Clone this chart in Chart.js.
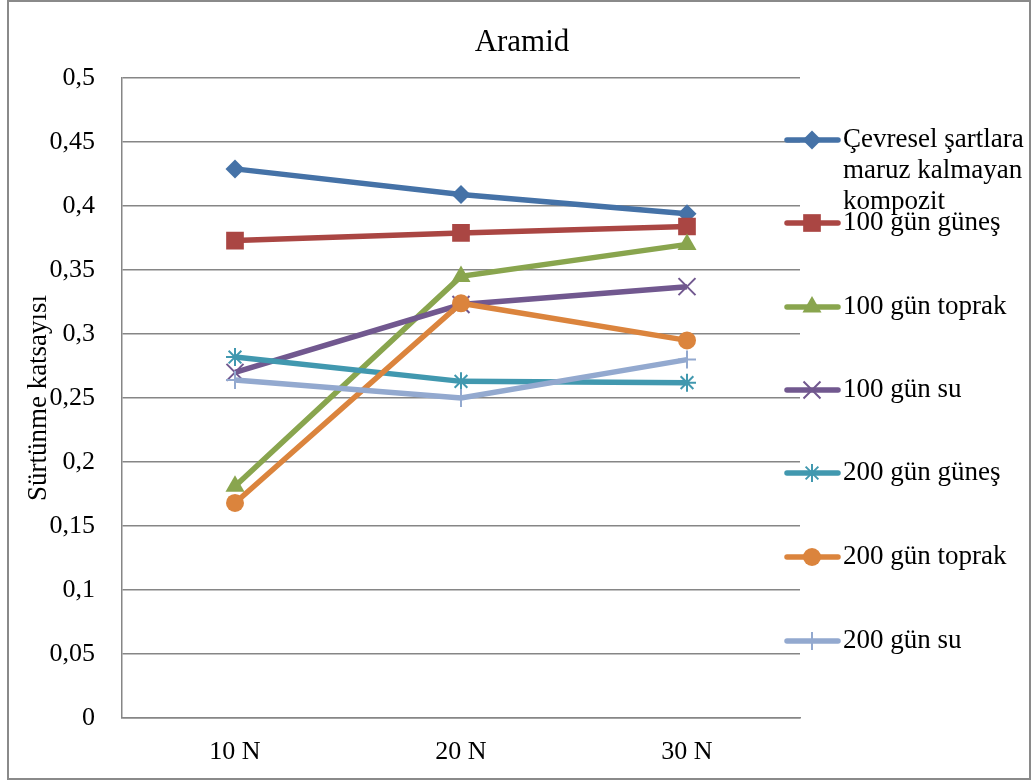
<!DOCTYPE html>
<html>
<head>
<meta charset="utf-8">
<title>Aramid</title>
<script src="https://cdn.jsdelivr.net/npm/chart.js@4/dist/chart.umd.min.js"></script>
<style>
  html, body { margin: 0; padding: 0; background: #fff; }
  #wrap { width: 1034px; height: 782px; position: relative; }
  canvas { display: block; }
</style>
</head>
<body>
<div id="wrap"><canvas id="chart" width="1034" height="782"></canvas></div>
<script>
// Load levels on the horizontal axis
const categories = ['10 N', '20 N', '30 N'];

// Friction coefficient for each exposure condition
const seriesNames = [
  'Çevresel şartlara maruz kalmayan kompozit',
  '100 gün güneş',
  '100 gün toprak',
  '100 gün su',
  '200 gün güneş',
  '200 gün toprak',
  '200 gün su'
];
const cevresel      = [0.429, 0.409, 0.394];
const gun100Gunes   = [0.373, 0.379, 0.384];
const gun100Toprak  = [0.181, 0.345, 0.370];
const gun100Su      = [0.270, 0.323, 0.337];
const gun200Gunes   = [0.282, 0.263, 0.262];
const gun200Toprak  = [0.168, 0.324, 0.295];
const gun200Su      = [0.264, 0.250, 0.280];

// Legend text lines for the first entry
const firstLegendLines = ['Çevresel şartlara', 'maruz kalmayan', 'kompozit'];

const yTickLabels = ['0', '0,05', '0,1', '0,15', '0,2', '0,25', '0,3', '0,35', '0,4', '0,45', '0,5'];

const seriesValues = [cevresel, gun100Gunes, gun100Toprak, gun100Su, gun200Gunes, gun200Toprak, gun200Su];
const colors = ['#4572A7', '#AA4643', '#89A54E', '#71588F', '#4198AF', '#DB843D', '#93A9CF'];
const styles = [
  { pointStyle: 'rectRot',  radius: 9.5,  bw: 0 },
  { pointStyle: 'rect',     radius: 12.5, bw: 0 },
  { pointStyle: 'triangle', radius: 11,   bw: 0 },
  { pointStyle: 'crossRot', radius: 12,   bw: 2 },
  { pointStyle: 'star',     radius: 9,    bw: 2 },
  { pointStyle: 'circle',   radius: 9,    bw: 0 },
  { pointStyle: 'cross',    radius: 9,    bw: 2 }
];

const SERIF = '"Liberation Serif", "Times New Roman", serif';

const datasets = seriesValues.map((vals, i) => ({
  label: seriesNames[i],
  data: vals,
  borderColor: colors[i],
  backgroundColor: colors[i],
  borderWidth: 5.5,
  pointStyle: styles[i].pointStyle,
  pointRadius: styles[i].radius,
  pointHoverRadius: styles[i].radius,
  pointBackgroundColor: colors[i],
  pointBorderColor: colors[i],
  pointBorderWidth: styles[i].bw,
  tension: 0,
  order: -i            // later series are drawn on top
}));

// Outer frame, chart title and the right-hand legend
const decorations = {
  id: 'decorations',
  afterDraw(chart) {
    const ctx = chart.ctx;
    ctx.save();

    // frame
    ctx.strokeStyle = '#8a8a8a';
    ctx.lineWidth = 2;
    ctx.strokeRect(8, 1, 1022, 778);

    // title
    ctx.fillStyle = '#000';
    ctx.font = '31px ' + SERIF;
    ctx.textAlign = 'center';
    ctx.textBaseline = 'alphabetic';
    ctx.fillText('Aramid', 522, 51);

    // legend
    const rowsY = [140, 223, 307, 390, 473, 557, 641];
    ctx.font = '27px ' + SERIF;
    ctx.textAlign = 'left';
    ctx.textBaseline = 'middle';
    chart.data.datasets.forEach((ds, i) => {
      const y = rowsY[i];
      ctx.strokeStyle = ds.borderColor;
      ctx.lineWidth = 5.5;
      ctx.lineCap = 'round';
      ctx.beginPath();
      ctx.moveTo(787, y);
      ctx.lineTo(838, y);
      ctx.stroke();
      ctx.lineCap = 'butt';

      ctx.save();
      ctx.fillStyle = ds.borderColor;
      ctx.strokeStyle = ds.borderColor;
      ctx.lineWidth = ds.pointBorderWidth || 1;
      Chart.helpers.drawPoint(ctx, {
        pointStyle: ds.pointStyle,
        radius: ds.pointRadius,
        borderWidth: ds.pointBorderWidth,
        rotation: 0
      }, 812, y);
      ctx.restore();

      ctx.fillStyle = '#000';
      const lines = i === 0 ? firstLegendLines : [ds.label];
      lines.forEach((t, k) => ctx.fillText(t, 843, y + k * 31));
    });
    ctx.restore();
  }
};

new Chart(document.getElementById('chart'), {
  type: 'line',
  data: { labels: categories, datasets },
  options: {
    responsive: false,
    animation: false,
    events: [],
    layout: { padding: { left: 0, top: 78, right: 234, bottom: 0 } },
    plugins: {
      legend: { display: false },
      title: { display: false },
      tooltip: { enabled: false }
    },
    scales: {
      x: {
        offset: true,
        grid: { display: false, drawTicks: false },
        border: { display: true, color: '#868686', width: 1.5 },
        ticks: {
          color: '#000',
          font: { family: SERIF, size: 26 },
          padding: 19,
          maxRotation: 0
        },
        afterFit(scale) { scale.height = 64; }
      },
      y: {
        min: 0,
        max: 0.5,
        grid: { color: '#868686', lineWidth: 1.5, drawTicks: false },
        border: { display: true, color: '#868686', width: 1.5 },
        ticks: {
          stepSize: 0.05,
          color: '#000',
          font: { family: SERIF, size: 26 },
          padding: 27,
          callback: (v, i) => yTickLabels[i]
        },
        title: {
          display: true,
          text: 'Sürtünme katsayısı',
          color: '#000',
          font: { family: SERIF, size: 27 },
          padding: { top: 23, bottom: 0 }
        },
        afterFit(scale) { scale.width = 122; }
      }
    }
  },
  plugins: [decorations]
});
</script>
</body>
</html>
